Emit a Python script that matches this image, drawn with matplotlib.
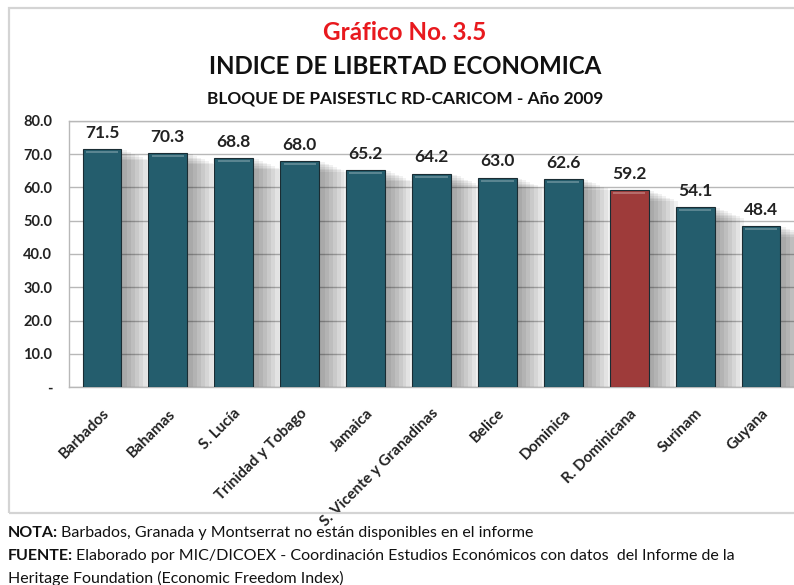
import matplotlib
matplotlib.use("Agg")
import matplotlib.pyplot as plt
from matplotlib.patches import Rectangle

plt.rcParams["font.family"] = ["Lato", "DejaVu Sans"]

# data
countries = ["Barbados", "Bahamas", "S. Lucía", "Trinidad y Tobago", "Jamaica",
             "S. Vicente y Granadinas", "Belice", "Dominica", "R. Dominicana",
             "Surinam", "Guyana"]
values = [71.5, 70.3, 68.8, 68.0, 65.2, 64.2, 63.0, 62.6, 59.2, 54.1, 48.4]
highlight = "R. Dominicana"

y_ticks = [0, 10, 20, 30, 40, 50, 60, 70, 80]
y_tick_labels = ["-", "10.0", "20.0", "30.0", "40.0", "50.0", "60.0", "70.0", "80.0"]

teal = "#245d6d"
red = "#9e3b3a"

W, H = 794, 585
fig = plt.figure(figsize=(W / 100, H / 100), dpi=100)

# outer frame
fig.patches.append(Rectangle((9 / W, 1 - 513 / H), 800 / W, (513 - 8) / H,
                             transform=fig.transFigure, fill=False,
                             edgecolor="#d4d4d4", linewidth=1.6))

ax = fig.add_axes([69 / W, 1 - 387 / H, (794 - 69) / W, (387 - 121) / H])
ax.set_facecolor("white")

x = list(range(len(countries)))
colors = [red if c == highlight else teal for c in countries]

# soft shadows behind the bars
for i, v in zip(x, values):
    for k in range(7):
        ax.bar(i + 0.07 + k * 0.03, v - 0.3 - k * 0.5, width=0.62 + k * 0.06,
               color="black", alpha=0.055, zorder=2, linewidth=0)

bars = ax.bar(x, values, width=0.59, color=colors, edgecolor="#1a2c33",
              linewidth=0.8, zorder=3)
# small highlight strip at the top of each bar
for b in bars:
    ax.add_patch(Rectangle((b.get_x() + 0.05, b.get_height() - 1.2), b.get_width() - 0.1, 0.6,
                           facecolor="white", alpha=0.25, linewidth=0, zorder=4))

for i, v in zip(x, values):
    ax.annotate(f"{v:.1f}", (i, v), xytext=(0, 6), textcoords="offset points",
                ha="center", va="bottom", fontsize=12.5, fontweight="bold", color="#222222")

ax.set_xlim(-0.5, len(countries) - 0.5)
ax.set_ylim(0, 80)
ax.set_yticks(y_ticks)
ax.set_yticklabels(y_tick_labels, fontsize=10.5, fontweight="bold", color="#222222")
ax.yaxis.grid(True, color="#b8b8b8", linewidth=1.0, zorder=0)
ax.set_axisbelow(True)
ax.tick_params(axis="y", length=0, pad=12)

ax.set_xticks(x)
ax.set_xticklabels(countries, rotation=45, ha="right", rotation_mode="anchor",
                   fontsize=11, fontweight="bold", color="#222222")
ax.tick_params(axis="x", length=0, pad=14)

for side in ["top", "left", "bottom"]:
    ax.spines[side].set_color("#b8b8b8")
    ax.spines[side].set_linewidth(1.0)
ax.spines["right"].set_visible(False)

# titles
fig.text(405 / W, 1 - 32 / H, "Gráfico No. 3.5", ha="center", va="center",
         fontsize=17.5, fontweight="bold", color="#e8191e")
fig.text(405 / W, 1 - 66 / H, "INDICE DE LIBERTAD ECONOMICA", ha="center", va="center",
         fontsize=17.3, fontweight="bold", color="#111111")
fig.text(405 / W, 1 - 98 / H, "BLOQUE DE PAISESTLC RD-CARICOM - Año 2009", ha="center",
         va="center", fontsize=12.4, fontweight="bold", color="#111111")

# footnotes with bold lead-in
notes = [
    ("NOTA:", "Barbados, Granada y Montserrat no están disponibles en el informe", 533),
    ("FUENTE:", "Elaborado por MIC/DICOEX - Coordinación Estudios Económicos con datos  del Informe de la", 556),
    ("", "Heritage Foundation (Economic Freedom Index)", 578),
]
fig.canvas.draw()
renderer = fig.canvas.get_renderer()
for lead, rest, ypx in notes:
    x0 = 8
    if lead:
        t = fig.text(x0 / W, 1 - ypx / H, lead, ha="left", va="center",
                     fontsize=11.5, fontweight="bold", color="#111111")
        x0 += t.get_window_extent(renderer).width + 3
    fig.text(x0 / W, 1 - ypx / H, rest, ha="left", va="center",
             fontsize=11.5, color="#111111")

fig.savefig("out.png", dpi=100)
